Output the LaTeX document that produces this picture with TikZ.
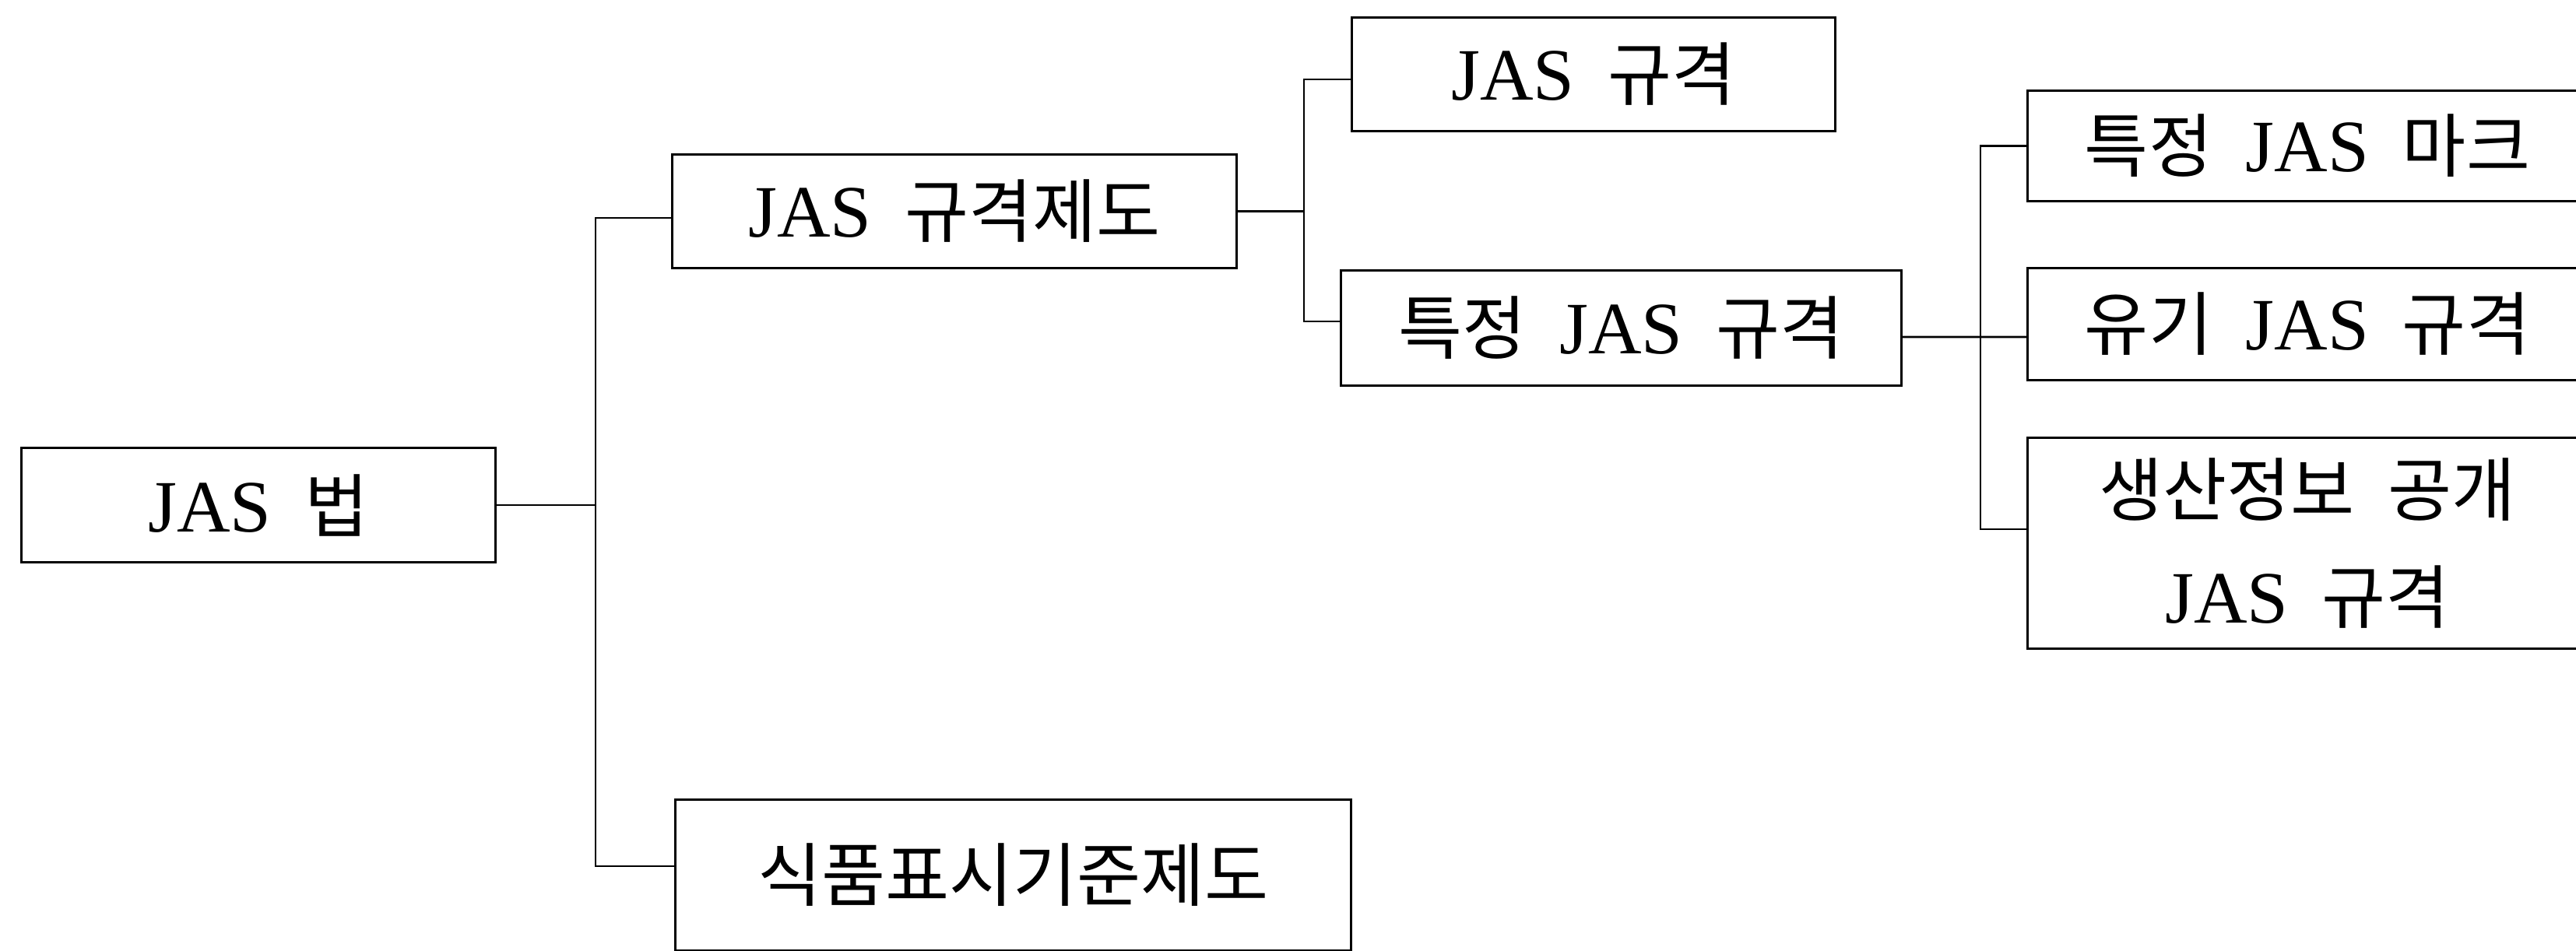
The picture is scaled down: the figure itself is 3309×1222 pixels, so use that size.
\documentclass[tikz,border=0pt]{standalone}
\usepackage{fontspec}
\setmainfont{Liberation Serif}
\newfontfamily\krfont[Scale=0.94]{Noto Sans CJK KR}
\newcommand\hangul[1]{{\krfont #1}}
\newcommand\wsp{\hspace{0.45em}}
\begin{document}
\begin{tikzpicture}[x=0.01cm,y=-0.01cm,
  box/.style={draw=black, line width=0.85pt, inner sep=0pt, fill=white,
    font=\fontsize{27}{39}\selectfont},
  conn/.style={draw=black, line width=0.75pt}]
\useasboundingbox (0,0) rectangle (3309,1222);
\fill[white] (0,0) rectangle (3309,1222);
% boxes
\node[box, minimum width=6.08cm, minimum height=1.46cm] (law) at (332,649) {JAS\wsp\hangul{법}};
\node[box, minimum width=7.24cm, minimum height=1.45cm] (sys) at (1226,271.5) {JAS\wsp\hangul{규격제도}};
\node[box, minimum width=8.67cm, minimum height=1.93cm] (food) at (1301.5,1124.5) {\hangul{식품표시기준제도}};
\node[box, minimum width=6.20cm, minimum height=1.45cm] (std) at (2047,95.5) {JAS\wsp\hangul{규격}};
\node[box, minimum width=7.19cm, minimum height=1.47cm] (spec) at (2082.5,421.5) {\hangul{특정}\wsp JAS\wsp\hangul{규격}};
\node[box, minimum width=7.18cm, minimum height=1.41cm] (mark) at (2964,187.5) {\hangul{특정}\wsp JAS\wsp\hangul{마크}};
\node[box, minimum width=7.18cm, minimum height=1.43cm] (org) at (2964,416.5) {\hangul{유기}\wsp JAS\wsp\hangul{규격}};
\node[box, minimum width=7.18cm, minimum height=2.70cm, align=center] (prod) at (2964,698) {\hangul{생산정보}\wsp\hangul{공개}\\JAS\wsp\hangul{규격}};
% branch points
\coordinate (b1) at (765,649);
\coordinate (b2) at (1675,271.5);
\coordinate (b3) at (2544,433);
% connectors
\draw[conn] (law.east) -- (b1);
\draw[conn] ([yshift=-0.085cm]sys.west) -| (b1) |- ([yshift=0.115cm]food.west);
\draw[conn] (sys.east) -- (b2);
\draw[conn] ([yshift=-0.065cm]std.west) -| (b2) |- ([yshift=0.085cm]spec.west);
\draw[conn] ([yshift=-0.115cm]spec.east) -- (b3) -- (b3 -| org.west);
\draw[conn] (mark.west) -| (b3) |- ([yshift=0.18cm]prod.west);
\end{tikzpicture}
\end{document}
